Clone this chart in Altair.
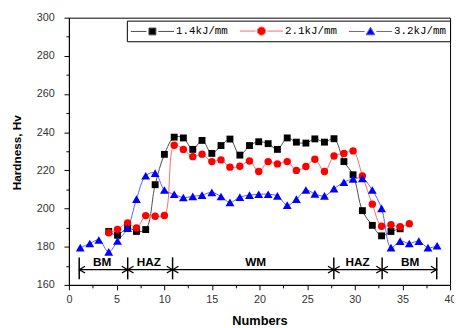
import altair as alt
import pandas as pd

# ---------------- data ----------------
X_POS = [1.19, 2.19, 3.14, 4.18, 5.10, 6.16, 7.09, 8.06, 9.05, 10.02,
         11.05, 12.01, 13.00, 13.97, 15.00, 15.96, 16.90, 17.94, 18.95, 19.92,
         20.91, 21.88, 22.91, 23.87, 24.87, 25.81, 26.82, 27.82, 28.86, 29.82,
         30.80, 31.84, 32.81, 33.80, 34.76, 35.72, 36.72, 37.68, 38.64]

SERIES = ["1.4kJ/mm", "2.1kJ/mm", "3.2kJ/mm"]
START_INDEX = [3, 3, 0]

HV_14 = [188, 186, 190, 188, 189, 212.5, 228.4, 237.4, 237, 231,
         235.7, 228.9, 233, 236.4, 228, 233, 235, 234, 231, 237,
         234.8, 234.3, 236.5, 234.8, 236.6, 224.6, 217.7, 198.9, 191.2, 185.7,
         188, 189.4]
HV_21 = [187.3, 189.1, 192.5, 189.8, 196.3, 196, 196.4, 233.2, 231, 227.2,
         228.5, 224.6, 225.5, 221.7, 222.2, 224.9, 219.4, 224.6, 223.4, 224.6,
         220, 222, 225.8, 219.4, 227.5, 228.9, 230.2, 217.1, 202.3, 190.7,
         191.5, 190.5, 192]
HV_32 = [179.5, 181.7, 183.5, 177.3, 183, 189.7, 204.9, 217.2, 218.6, 209.7,
         207.5, 205.8, 206.4, 207, 208.5, 206.3, 203.2, 206, 207, 207.5,
         207.5, 206.6, 201.8, 204.9, 209.7, 207.7, 206.6, 210.4, 213.8, 215.5,
         215.8, 209.7, 200.1, 179.5, 182.9, 181.7, 182.9, 179.5, 180.5]

MARKER_COLORS = ["#000000", "#ff0000", "#0000ff"]
LINE_COLORS = ["#4a4a4a", "#ff6868", "#5c5cff"]
MARKER_SHAPES = ["square", "circle", "triangle-up"]
MARKER_SIZES = [49, 57, 81]

# legend symbols: line stub + marker + line stub
LEGEND_SHAPES = [
    "M-1.08,0H1.58M3.58,0H6.25M2.0,-0.58H3.17V0.58H2.0Z",
    "M-1.08,0H1.58M3.58,0H6.25M3.29,0A0.71,0.71 0 1,1 1.87,0A0.71,0.71 0 1,1 3.29,0Z",
    "M-1.08,0H1.58M3.58,0H6.25M2.58,-0.72L3.33,0.56L1.83,0.56Z",
]

ZONE_NAMES = ["BM", "HAZ", "WM", "HAZ", "BM"]
ZONE_EDGES = [1.08, 6.17, 10.88, 27.8, 32.87, 38.6]
ZONE_LABEL_X = [3.5, 8.4, 19.6, 30.3, 35.8]
ARROW_HV = 168.0
BAR_LOW, BAR_HIGH = 162.9, 174.4
ZONE_LABEL_HV = 171.8

X_TICKS = [0, 2.5, 5, 7.5, 10, 12.5, 15, 17.5, 20, 22.5, 25, 27.5, 30, 32.5, 35, 37.5, 40]
Y_TICKS = [160, 170, 180, 190, 200, 210, 220, 230, 240, 250, 260, 270, 280, 290, 300]

LEFT_HEAD = "M1.7,-1L0,0L1.7,1"
RIGHT_HEAD = "M-1.7,-1L0,0L-1.7,1"

# ---------------- tables ----------------
rows = []
for s, start, vals in zip(SERIES, START_INDEX, [HV_14, HV_21, HV_32]):
    for k, v in enumerate(vals):
        rows.append({"series": s, "x": X_POS[start + k], "hv": v})
df = pd.DataFrame(rows)

zones = pd.DataFrame({
    "name": ZONE_NAMES,
    "start": ZONE_EDGES[:-1],
    "end": ZONE_EDGES[1:],
    "lx": ZONE_LABEL_X,
    "ay": [ARROW_HV] * len(ZONE_NAMES),
    "ly": [ZONE_LABEL_HV] * len(ZONE_NAMES),
})
edges = pd.DataFrame({"edge": ZONE_EDGES,
                      "lo": [BAR_LOW] * len(ZONE_EDGES),
                      "hi": [BAR_HIGH] * len(ZONE_EDGES)})

x_scale = alt.Scale(domain=[0, 40], nice=False, zero=False)
y_scale = alt.Scale(domain=[160, 300], nice=False, zero=False)

x_axis = alt.Axis(
    values=X_TICKS,
    labelExpr="datum.value % 5 === 0 ? datum.label : ''",
    tickSize={"condition": {"test": "datum.value % 5 === 0", "value": 5}, "value": 3},
    grid=False, labelPadding=4, labelOverlap=False, labelBound=False, labelFlush=False,
    titleX=194, titleY=36, titleBaseline="middle",
    titleFont="Liberation Sans", titleFontSize=13, titleFontWeight="bold",
)
y_axis = alt.Axis(
    values=Y_TICKS,
    labelExpr="datum.value % 20 === 0 ? datum.label : ''",
    tickSize={"condition": {"test": "datum.value % 20 === 0", "value": 5}, "value": 3},
    grid=False, labelPadding=10, labelOverlap=False, labelBound=False, labelFlush=False,
    titleX=-53, titleY=137, titleBaseline="middle",
    titleFont="Liberation Sans", titleFontSize=12, titleFontWeight="bold",
)


def zx(f):
    return alt.X(f"{f}:Q", scale=x_scale, axis=x_axis, title="Numbers")


def zy(f):
    return alt.Y(f"{f}:Q", scale=y_scale, axis=y_axis, title="Hardness, Hv")


line_layers = []
for s, c in zip(SERIES, LINE_COLORS):
    line_layers.append(
        alt.Chart(df).transform_filter(alt.datum.series == s).mark_line(
            interpolate="catmull-rom", strokeWidth=1, color=c
        ).encode(x=zx("x"), y=zy("hv"))
    )

point_layers = []
for s, c, sh, sz in zip(SERIES, MARKER_COLORS, MARKER_SHAPES, MARKER_SIZES):
    point_layers.append(
        alt.Chart(df).transform_filter(alt.datum.series == s).mark_point(
            filled=True, opacity=1, strokeWidth=0, shape=sh, size=sz, color=c
        ).encode(x=zx("x"), y=zy("hv"))
    )

leg = alt.Legend(
    title=None, orient="none", legendX=59, legendY=3, direction="horizontal", columns=3,
    symbolSize=144, symbolStrokeWidth=1, symbolOpacity=1, labelOffset=33, columnPadding=10,
    padding=4, strokeColor="#000000", fillColor="#ffffff",
    labelFont="Liberation Mono", labelFontSize=11, labelColor="#000000",
)
# layer that draws nothing in the plot and only carries the legend
legend_layer = alt.Chart(df).transform_filter("false").mark_point(filled=True, opacity=1).encode(
    x=zx("x"), y=zy("hv"),
    fill=alt.Fill("series:N", scale=alt.Scale(domain=SERIES, range=MARKER_COLORS), legend=leg),
    stroke=alt.Stroke("series:N", scale=alt.Scale(domain=SERIES, range=LINE_COLORS), legend=leg),
    shape=alt.Shape("series:N", scale=alt.Scale(domain=SERIES, range=LEGEND_SHAPES), legend=leg),
)

hline = alt.Chart(zones).mark_rule(color="#000000", strokeWidth=1.2).encode(
    x=zx("start"), x2="end", y=zy("ay"))
bars = alt.Chart(edges).mark_rule(color="#000000", strokeWidth=1.5).encode(
    x=zx("edge"), y=zy("lo"), y2="hi")
lheads = alt.Chart(zones).mark_point(shape=LEFT_HEAD, filled=False, size=49, color="#000000",
                                     strokeWidth=1.2, opacity=1).encode(x=zx("start"), y=zy("ay"))
rheads = alt.Chart(zones).mark_point(shape=RIGHT_HEAD, filled=False, size=49, color="#000000",
                                     strokeWidth=1.2, opacity=1).encode(x=zx("end"), y=zy("ay"))
zlabels = alt.Chart(zones).mark_text(font="Liberation Sans", fontSize=12, fontWeight="bold",
                                     color="#000000", baseline="middle").encode(
    x=zx("lx"), y=zy("ly"), text="name:N")

chart = alt.layer(*line_layers, *point_layers, legend_layer, hline, bars, lheads, rheads,
                  zlabels).properties(
    width=388, height=272, autosize="none",
    padding={"left": 62, "top": 7, "right": 4, "bottom": 40},
).configure_view(
    stroke="#000000", strokeWidth=1,
).configure_axis(
    domainColor="#000000", domainWidth=1, tickColor="#000000", tickWidth=1,
    labelFont="Liberation Sans", labelFontSize=11, labelColor="#333333",
    titleColor="#000000",
)

chart.save("out.html", embed_options={"renderer": "svg", "actions": False})
